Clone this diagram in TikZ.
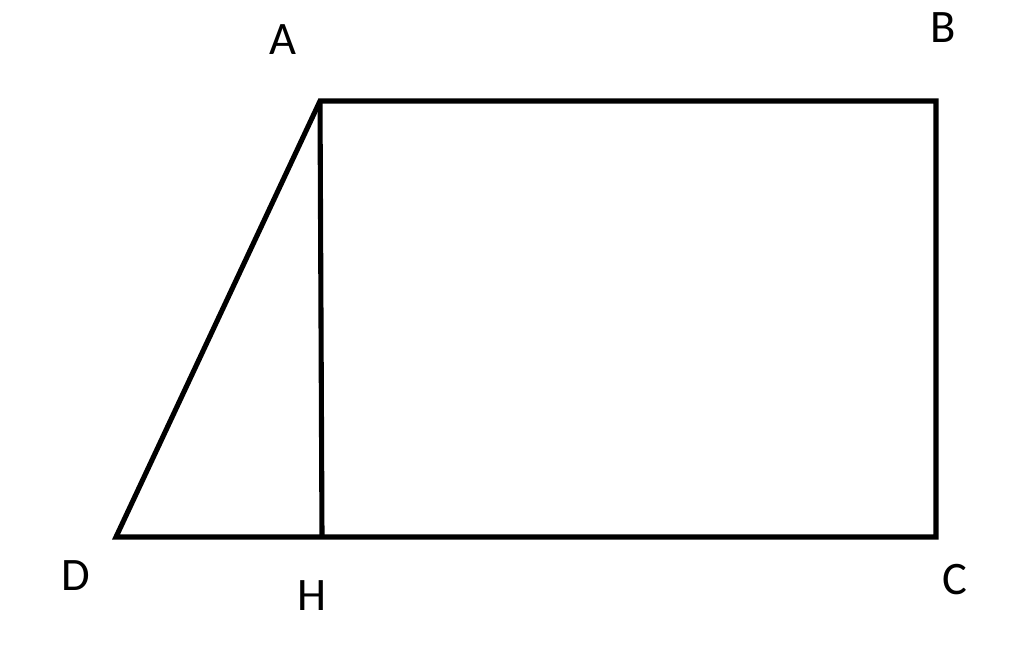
\documentclass[tikz,border=0pt]{standalone}
\usepackage{fontspec}
\setmainfont{Carlito}
\begin{document}
\begin{tikzpicture}[x=0.02cm,y=-0.02cm,
  edge/.style={line width=2.9pt,line join=miter,line cap=butt},
  lbl/.style={font=\fontsize{26.5}{30}\selectfont,inner sep=0pt,anchor=center}]
\useasboundingbox (0,0) rectangle (1024,647);
\coordinate (A) at (320,101);
\coordinate (B) at (936,101);
\coordinate (C) at (936,537);
\coordinate (D) at (116,537);
\coordinate (H) at (322,537);
\draw[edge] (D) -- (A) -- (B) -- (C) -- cycle;
\draw[edge] (A) -- (H);
\node[lbl] (lA) at (283,40) {A};
\node[lbl] (lB) at (943,28) {B};
\node[lbl] (lC) at (955,580) {C};
\node[lbl] (lD) at (76,576) {D};
\node[lbl] (lH) at (312,596) {H};
\end{tikzpicture}
\end{document}
